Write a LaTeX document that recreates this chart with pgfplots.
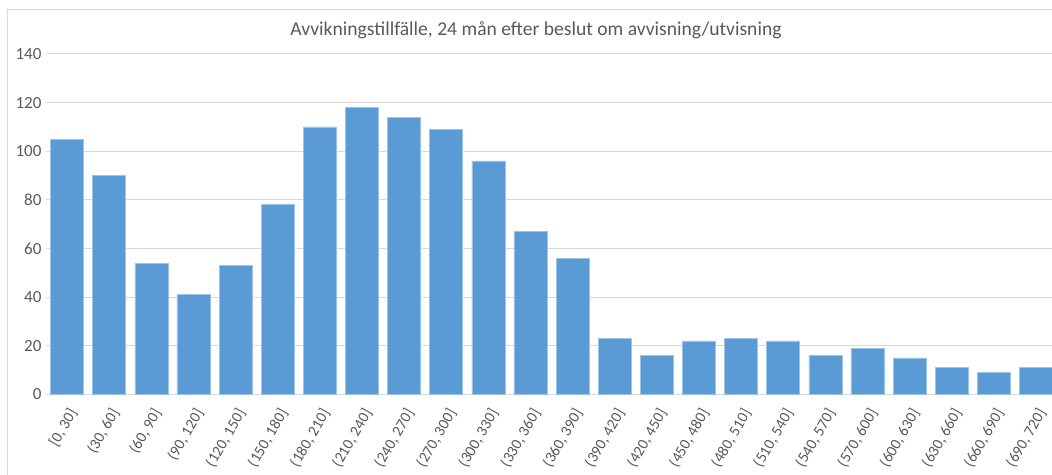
\documentclass[border=0pt]{standalone}
\usepackage{fontspec}
\setmainfont{Carlito}
\usepackage{pgfplots}
\pgfplotsset{compat=1.18}
\definecolor{barblue}{HTML}{5B9BD5}
\definecolor{baredge}{HTML}{9DC3E6}
\definecolor{gridgray}{HTML}{D9D9D9}
\definecolor{txtgray}{HTML}{595959}

\begin{document}
\begin{tikzpicture}[x=1pt,y=1pt]
% chart frame (left and top edges are visible in the reference)
\draw[gridgray, line width=1pt] (7,-5) -- (7,464) -- (1060,464);
\node[anchor=base, text=txtgray, font=\fontsize{19.6}{22}\selectfont] at (536,438)
  {Avvikningstillfälle, 24 mån efter beslut om avvisning/utvisning};
\begin{axis}[
    at={(46pt,79.7pt)}, anchor=south west,
    scale only axis, width=1011pt, height=340.3pt,
    xmin=-0.5, xmax=23.5, ymin=0, ymax=140,
    ytick={0,20,...,140},
    xtick={0,...,23},
    xticklabels={{[0, 30]},{(30, 60]},{(60, 90]},{(90, 120]},{(120, 150]},{(150, 180]},
      {(180, 210]},{(210, 240]},{(240, 270]},{(270, 300]},{(300, 330]},{(330, 360]},
      {(360, 390]},{(390, 420]},{(420, 450]},{(450, 480]},{(480, 510]},{(510, 540]},
      {(540, 570]},{(570, 600]},{(600, 630]},{(630, 660]},{(660, 690]},{(690, 720]}},
    axis lines=left,
    x axis line style={gridgray, line width=1pt, -},
    y axis line style={draw=none},
    major tick length=0pt,
    ymajorgrids,
    grid style={gridgray, line width=1pt},
    /pgf/number format/assume math mode=true,
    tick label style={text=txtgray},
    yticklabel style={font=\fontsize{17}{20}\selectfont, xshift=-1pt},
    xticklabel style={font=\fontsize{15.5}{18}\selectfont,
      xshift=8pt, yshift=-13pt, rotate=60, anchor=east},
    clip=false,
]
\addplot[ybar, bar width=33pt, fill=barblue, draw=baredge, line width=0.6pt]
  coordinates {
    (0,105) (1,90) (2,54) (3,41) (4,53) (5,78) (6,110) (7,118)
    (8,114) (9,109) (10,96) (11,67) (12,56) (13,23) (14,16) (15,22)
    (16,23) (17,22) (18,16) (19,19) (20,15) (21,11) (22,9) (23,11)
  };
\end{axis}
\pgfresetboundingbox
\useasboundingbox (0,0) rectangle (1052,474);
\end{tikzpicture}
\end{document}
